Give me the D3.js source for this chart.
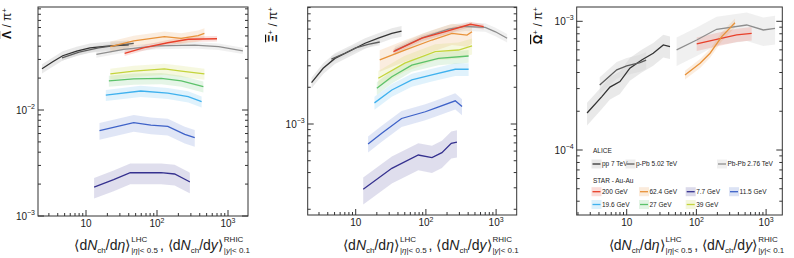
<!DOCTYPE html>
<html><head><meta charset="utf-8">
<script src="https://cdn.jsdelivr.net/npm/d3@7"></script>
<style>
body{margin:0;background:#fff;}
svg{display:block;font-family:"Liberation Sans",Arial,Helvetica,sans-serif;}
</style></head><body>
<svg id="c" width="794" height="258"></svg>
<script>
// ---------- DATA ----------
const seriesNames = ["pp 7 TeV","p-Pb 5.02 TeV","Pb-Pb 2.76 TeV","200 GeV","62.4 GeV","7.7 GeV","11.5 GeV","19.6 GeV","27 GeV","39 GeV"];
const yTickExponents = [[-2,-3],[-3],[-3,-4]];
const xTickExponents = [1,2,3];

// Lambda / pi  : [dNch, ratio]
const lambda_pp7   = [[2.4,0.0245],[3.4,0.0285],[4.7,0.0325],[7.4,0.036],[11.4,0.0385],[20,0.040],[40,0.0412]];
const lambda_pPb   = [[4.6,0.031],[8,0.0352],[15,0.0385],[25,0.0405],[47,0.0425]];
const lambda_PbPb  = [[14,0.0335],[34,0.0373],[100,0.0402],[340,0.041],[740,0.0396],[1620,0.0362]];
const lambda_200   = [[35,0.0343],[66,0.0387],[142,0.0431],[275,0.0465],[700,0.047]];
const lambda_62    = [[22,0.0396],[47,0.0448],[127,0.0492],[220,0.0474],[380,0.0503],[465,0.0527]];
const lambda_7p7   = [[13,0.00187],[24.5,0.0022],[42,0.00256],[114,0.00256],[177,0.00249],[275,0.00214],[290,0.0021]];
const lambda_11p5  = [[15.5,0.0064],[47,0.0076],[82,0.0072],[142,0.0070],[246,0.0059],[340,0.0055]];
const lambda_19p6  = [[19,0.0138],[59,0.0151],[142,0.0144],[275,0.0134],[425,0.012]];
const lambda_27    = [[21,0.0188],[47,0.0197],[115,0.0199],[220,0.0188],[450,0.0166]];
const lambda_39    = [[22,0.0219],[47,0.0233],[127,0.0244],[220,0.0233],[465,0.0219]];
const lambda_err   = [0.10,0.06,0.07,0.06,0.12,0.22,0.18,0.12,0.12,0.12];

// Xi / pi
const xi_pp7   = [[2.35,0.00218],[3.44,0.00286],[5.06,0.00345],[8.8,0.00404],[13.6,0.00459],[21,0.00505],[32.7,0.00554],[45,0.00578]];
const xi_pPb   = [[4.5,0.0034],[7,0.0038],[10,0.0042],[15,0.0045],[22,0.0047]];
const xi_PbPb  = [[36,0.0040],[90,0.0051],[210,0.0060],[364,0.0063],[700,0.0062],[980,0.0057],[1435,0.00505]];
const xi_200   = [[34.5,0.00392],[88,0.00505],[189,0.00571],[429,0.00657],[665,0.00627]];
const xi_62    = [[22,0.00335],[50,0.00404],[122,0.00488],[235,0.00554],[385,0.00536],[454,0.00571]];
const xi_7p7   = [[12.8,0.000292],[32.7,0.000433],[78,0.000557],[122,0.00053],[169,0.000582],[230,0.000695],[277,0.00071]];
const xi_11p5  = [[15,0.000686],[23.5,0.00084],[45,0.00111],[98,0.00126],[136,0.00135],[262,0.00155],[327,0.00139]];
const xi_19p6  = [[18.5,0.00149],[32.7,0.0019],[63,0.0023],[122,0.00253],[262,0.00281],[406,0.00281]];
const xi_27    = [[20,0.00196],[32.7,0.00244],[63,0.00304],[151,0.00345],[406,0.00361]];
const xi_39    = [[21,0.00237],[50,0.00315],[136,0.00392],[292,0.00404],[454,0.00436]];
const xi_err   = [0.10,0.06,0.08,0.05,0.20,0.25,0.15,0.12,0.12,0.15];

// Omega / pi
const omega_pp7  = [[2.7,0.000194],[4.4,0.00026],[5.75,0.000308],[8,0.00034],[11.1,0.000432],[16.4,0.000501],[24,0.000565],[33.5,0.000655],[41.8,0.000636]];
const omega_pPb  = [[4.1,0.00032],[7.2,0.00042],[10,0.00045],[15.5,0.000478],[19,0.0005]];
const omega_PbPb = [[52,0.0006],[101,0.000716],[195,0.000867],[527,0.000936],[912,0.000856],[1343,0.000882]];
const omega_200  = [[101,0.000667],[195,0.000725],[378,0.000783],[621,0.000807]];
const omega_62   = [[68.6,0.000383],[113,0.000472],[157,0.000565],[231,0.00076],[358,0.000975]];
const omega_err  = [0.20,0.15,0.25,0.12,0.08];

// ---------- STYLE ----------
const colors = ["#333333","#5c5c5c","#8e8e8e","#e8402a","#e8923a","#35318f","#3e62c8","#3fb1ee","#5cc26a","#c4d43c"];
const bandFill = ["#cfcfcf","#d4d4d4","#dedede", null,null,null,null,null,null,null];

const panels = [
  {series:[lambda_pp7,lambda_pPb,lambda_PbPb,lambda_200,lambda_62,lambda_7p7,lambda_11p5,lambda_19p6,lambda_27,lambda_39], err:lambda_err, idx:[0,1,2,3,4,5,6,7,8,9],
   L:38,R:248,T:7,B:216,p10:86,dec:71,yRef:1e-3,yRefPx:216,ydec:106, sym:"Λ", sup:"", labX:11, labT:8},
  {series:[xi_pp7,xi_pPb,xi_PbPb,xi_200,xi_62,xi_7p7,xi_11p5,xi_19p6,xi_27,xi_39], err:xi_err, idx:[0,1,2,3,4,5,6,7,8,9],
   L:307.7,R:516.7,T:7,B:215,p10:355.7,dec:70.2,yRef:1e-3,yRefPx:124,ydec:122, sym:"Ξ", sup:"+", labX:277, labT:7},
  {series:[omega_pp7,omega_pPb,omega_PbPb,omega_200,omega_62], err:omega_err, idx:[0,1,2,3,4],
   L:576.7,R:782.3,T:7,B:215,p10:626.7,dec:69.7,yRef:1e-3,yRefPx:21.3,ydec:128.7, sym:"Ω", sup:"+", labX:542, labT:7}
];

const svg = d3.select("#c");
const FRAME = "#333";

panels.forEach((p,pi)=>{
  const x = d3.scaleLog()
    .domain([10**(1+(p.L-p.p10)/p.dec), 10**(1+(p.R-p.p10)/p.dec)])
    .range([p.L,p.R]);
  const y = d3.scaleLog()
    .domain([p.yRef*10**((p.yRefPx-p.B)/p.ydec), p.yRef*10**((p.yRefPx-p.T)/p.ydec)])
    .range([p.B,p.T]);
  const g = svg.append("g");

  // bands
  p.series.forEach((s,i)=>{
    const si = p.idx[i], e = p.err[i];
    const area = d3.area().x(d=>x(d[0])).y0(d=>y(d[1]*(1-e))).y1(d=>y(d[1]*(1+e)));
    g.append("path").attr("d",area(s))
      .attr("fill", bandFill[si] || colors[si])
      .attr("fill-opacity", bandFill[si] ? 0.45 : 0.16);
  });
  // lines
  p.series.forEach((s,i)=>{
    const si = p.idx[i];
    const line = d3.line().x(d=>x(d[0])).y(d=>y(d[1]));
    g.append("path").attr("d",line(s)).attr("fill","none")
      .attr("stroke",colors[si]).attr("stroke-width",1.3);
  });

  // frame
  g.append("rect").attr("x",p.L).attr("y",p.T).attr("width",p.R-p.L).attr("height",p.B-p.T)
    .attr("fill","none").attr("stroke",FRAME).attr("stroke-width",1);

  // y ticks
  const [y0,y1] = y.domain();
  for(let k=Math.floor(Math.log10(y0)); k<=Math.ceil(Math.log10(y1)); k++){
    for(let m=1;m<=9;m++){
      const v=m*10**k; if(v<y0*0.999||v>y1*1.001) continue;
      const py=y(v), len = m===1?6:3;
      g.append("line").attr("x1",p.L).attr("x2",p.L+len).attr("y1",py).attr("y2",py).attr("stroke",FRAME);
      g.append("line").attr("x1",p.R).attr("x2",p.R-len).attr("y1",py).attr("y2",py).attr("stroke",FRAME);
    }
  }
  yTickExponents[pi].forEach(k=>{
    const t = g.append("text").attr("x",p.L-3).attr("y",y(10**k)+3.5)
      .attr("text-anchor","end").attr("font-size",10).attr("fill","#222");
    t.append("tspan").text("10");
    t.append("tspan").attr("dy",-4.5).attr("font-size",7).text("−"+Math.abs(k));
  });
  // x ticks
  const [x0,x1] = x.domain();
  for(let k=0;k<=3;k++){
    for(let m=1;m<=9;m++){
      const v=m*10**k; if(v<x0||v>x1) continue;
      const px=x(v), len = m===1?6:3;
      g.append("line").attr("x1",px).attr("x2",px).attr("y1",p.B).attr("y2",p.B-len).attr("stroke",FRAME);
    }
  }
  xTickExponents.forEach(k=>{
    const t = g.append("text").attr("x",x(10**k)).attr("y",p.B+11)
      .attr("text-anchor","middle").attr("font-size",10).attr("fill","#222");
    t.append("tspan").text("10");
    if(k>1) t.append("tspan").attr("dy",-4.5).attr("font-size",7).text(k);
  });

  // y label
  const yl = g.append("text").attr("transform",`translate(${p.labX},${p.labT}) rotate(-90)`)
    .attr("text-anchor","end").attr("font-size",12).attr("fill","#111");
  yl.append("tspan").attr("font-weight","bold").style("text-decoration","overline").text(p.sym);
  if(p.sup) yl.append("tspan").attr("dy",-4).attr("font-size",8).text(p.sup);
  yl.append("tspan").attr("dy",p.sup?4:0).text(" / π");
  yl.append("tspan").attr("dy",-4).attr("font-size",8).text("+");

  // x title
  const tg = g.append("g");
  let cx = 0; const base = 250;
  function piece(txt, opts={}){
    const t = tg.append("text").attr("x",cx).attr("y",base+(opts.dy||0))
      .attr("font-size",opts.size||14).attr("fill","#222");
    if(opts.italic) t.attr("font-style","italic");
    t.text(txt);
    const w = t.node().getComputedTextLength();
    if(!opts.noAdvance) cx += w;
    return w;
  }
  function stacked(sup, subParts){
    const start = cx;
    const w1 = piece(sup,{size:8,dy:-8,noAdvance:true});
    let w2=0;
    subParts.forEach(sp=>{ const w=piece(sp.t,{size:8,dy:3,italic:sp.i}); w2+=w; });
    cx = start + Math.max(w1,w2);
  }
  piece("⟨d"); piece("N",{italic:true}); piece("ch",{size:8,dy:3}); piece("/d"); piece("η",{italic:true}); piece("⟩");
  cx+=1; stacked("LHC",[{t:"|"},{t:"η",i:true},{t:"|< 0.5"}]);
  cx+=2; piece(","); cx+=4;
  piece("⟨d"); piece("N",{italic:true}); piece("ch",{size:8,dy:3}); piece("/d"); piece("y",{italic:true}); piece("⟩");
  cx+=1; stacked("RHIC",[{t:"|"},{t:"y",i:true},{t:"|< 0.1"}]);
  tg.attr("transform",`translate(${p.R+2-cx},0)`);
});

// ---------- LEGEND (panel 3) ----------
const lg = svg.append("g").attr("font-size",6.5).attr("fill","#222");
lg.append("text").attr("x",593).attr("y",153).text("ALICE");
lg.append("text").attr("x",593).attr("y",182.5).text("STAR - Au-Au");
const legendPos = [[592.5,164],[626.5,164],[718,164],[592.5,191.7],[640,191.7],[686.7,191.7],[730,191.7],[592.5,204.5],[640,204.5],[686.7,204.5]];
seriesNames.forEach((n,i)=>{
  const [lx,ly] = legendPos[i];
  lg.append("rect").attr("x",lx-1).attr("y",ly-4.5).attr("width",10).attr("height",9)
    .attr("fill", bandFill[i] || colors[i]).attr("fill-opacity", bandFill[i]?0.45:0.18);
  lg.append("line").attr("x1",lx).attr("x2",lx+8).attr("y1",ly).attr("y2",ly)
    .attr("stroke",colors[i]).attr("stroke-width",1.3);
  lg.append("text").attr("x",lx+9.5).attr("y",ly+2.3).text(n);
});
</script>
</body></html>
